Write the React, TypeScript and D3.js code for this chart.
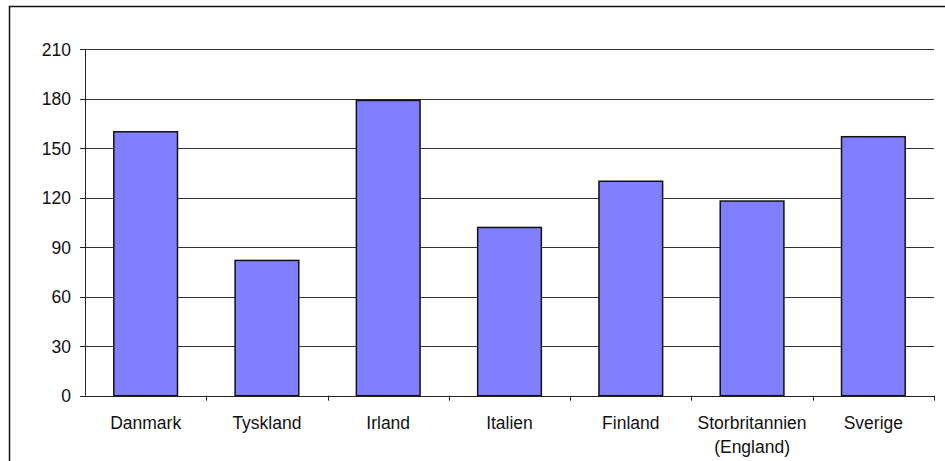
import { useEffect, useRef } from 'react';
import * as d3 from 'd3';

const countries = ['Danmark', 'Tyskland', 'Irland', 'Italien', 'Finland', 'Storbritannien\n(England)', 'Sverige'];
const values = [160, 82, 179, 102, 130, 118, 157];
const yTicks = [0, 30, 60, 90, 120, 150, 180, 210];

export default function App() {
  const ref = useRef<SVGSVGElement>(null);

  useEffect(() => {
    if (!ref.current) return;
    const svg = d3.select(ref.current);
    svg.selectAll('*').remove();

    const left = 85;
    const right = 934;
    const top = 49.3;
    const bottom = 395.7;
    const font = '"Liberation Sans", Arial, sans-serif';

    // outer frame (runs off the right and bottom edges)
    svg.append('rect')
      .attr('x', 9.5).attr('y', 6.5)
      .attr('width', 1000).attr('height', 1000)
      .attr('fill', 'white').attr('stroke', '#111').attr('stroke-width', 1.5);

    const x = d3.scaleBand().domain(countries).range([left, right]).paddingInner(0.475).paddingOuter(0.2375);
    const y = d3.scaleLinear().domain([0, 210]).range([bottom, top]);
    const step = x.step();

    // gridlines
    svg.append('g')
      .selectAll('line')
      .data(yTicks.filter((t) => t > 0))
      .join('line')
      .attr('x1', left).attr('x2', right)
      .attr('y1', (d) => Math.round(y(d)) + 0.5).attr('y2', (d) => Math.round(y(d)) + 0.5)
      .attr('stroke', '#333').attr('stroke-width', 1);

    // bars
    svg.append('g')
      .selectAll('rect')
      .data(values)
      .join('rect')
      .attr('x', (_, i) => x(countries[i])!)
      .attr('y', (d) => y(d))
      .attr('width', x.bandwidth())
      .attr('height', (d) => bottom - y(d))
      .attr('fill', '#8080FF')
      .attr('stroke', '#111').attr('stroke-width', 1.5);

    // y axis
    const yAxis = svg.append('g');
    yAxis.append('line')
      .attr('x1', left + 0.5).attr('x2', left + 0.5)
      .attr('y1', top).attr('y2', bottom)
      .attr('stroke', '#222');
    yAxis.selectAll('line.tick')
      .data(yTicks)
      .join('line')
      .attr('class', 'tick')
      .attr('x1', left - 5).attr('x2', left)
      .attr('y1', (d) => Math.round(y(d)) + 0.5).attr('y2', (d) => Math.round(y(d)) + 0.5)
      .attr('stroke', '#222');
    yAxis.selectAll('text')
      .data(yTicks)
      .join('text')
      .attr('x', 71)
      .attr('y', (d) => y(d))
      .attr('dy', '0.36em')
      .attr('text-anchor', 'end')
      .attr('font-family', font)
      .attr('font-size', 17.5)
      .attr('fill', '#111')
      .text((d) => d);

    // x axis
    const xAxis = svg.append('g');
    xAxis.append('line')
      .attr('x1', left).attr('x2', right)
      .attr('y1', Math.round(bottom) + 0.5).attr('y2', Math.round(bottom) + 0.5)
      .attr('stroke', '#222');
    xAxis.selectAll('line.tick')
      .data(countries)
      .join('line')
      .attr('class', 'tick')
      .attr('x1', (_, i) => Math.round(left + step * (i + 1)) + 0.5)
      .attr('x2', (_, i) => Math.round(left + step * (i + 1)) + 0.5)
      .attr('y1', bottom).attr('y2', bottom + 5)
      .attr('stroke', '#222');
    const labels = xAxis.selectAll('text')
      .data(countries)
      .join('text')
      .attr('x', (d) => x(d)! + x.bandwidth() / 2)
      .attr('y', 429)
      .attr('text-anchor', 'middle')
      .attr('font-family', font)
      .attr('font-size', 17.5)
      .attr('fill', '#111');
    labels.each(function (d) {
      const t = d3.select(this);
      d.split('\n').forEach((line, i) => {
        t.append('tspan')
          .attr('x', x(d)! + x.bandwidth() / 2)
          .attr('dy', i === 0 ? 0 : 24)
          .text(line);
      });
    });
  }, []);

  return (
    <svg
      ref={ref}
      width={945}
      height={461}
      style={{ position: 'absolute', left: 0, top: 0, background: 'white' }}
    />
  );
}
